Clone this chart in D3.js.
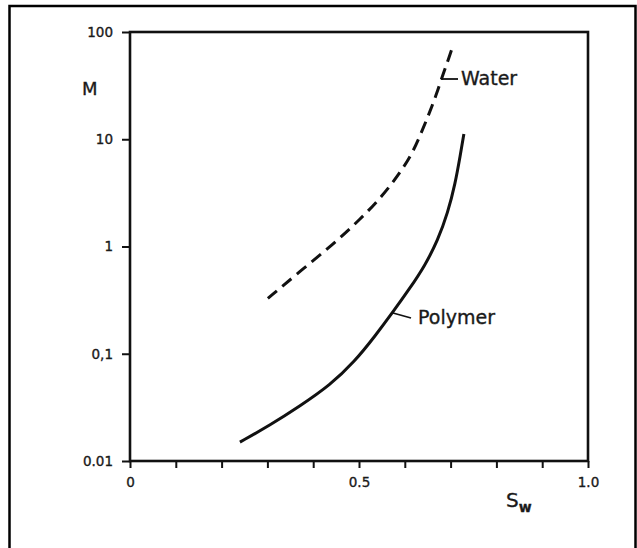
<!DOCTYPE html>
<html>
<head>
<meta charset="utf-8">
<script src="https://cdn.jsdelivr.net/npm/d3@7"></script>
<style>
  html, body { margin: 0; padding: 0; background: #fff; }
  svg { display: block; }
  text { font-family: "DejaVu Sans", sans-serif; fill: #1a1a1a; stroke: #1a1a1a; stroke-width: 0.35px; }
</style>
</head>
<body>
<script>
// Mobility ratio M against water saturation Sw (log M scale)
const waterSw   = [0.301, 0.371, 0.443, 0.502, 0.552, 0.5895, 0.616, 0.635, 0.653, 0.668, 0.683, 0.694, 0.705];
const waterM    = [0.328, 0.585, 1.045, 1.78, 2.98, 4.87, 7.33, 11.2, 17.3, 25.4, 39.8, 53.7, 74.1];
const polymerSw = [0.240, 0.306, 0.371, 0.437, 0.491, 0.535, 0.572, 0.611, 0.644, 0.672, 0.694, 0.710, 0.721, 0.729];
const polymerM  = [0.0150, 0.0216, 0.0325, 0.0509, 0.0850, 0.146, 0.238, 0.407, 0.665, 1.14, 2.07, 3.85, 7.03, 11.2];

const yTickValues = [0.01, 0.1, 1, 10, 100];
const yTickLabels = ["0.01", "0,1", "1", "10", "100"];
const xTickValues = [0, 0.1, 0.2, 0.3, 0.4, 0.5, 0.6, 0.7, 0.8, 0.9, 1.0];
const xTickLabels = ["0", "", "", "", "", "0.5", "", "", "", "", "1.0"];

const W = 637, H = 548;
const svg = d3.select("body").append("svg").attr("width", W).attr("height", H);

// outer frame
svg.append("rect")
  .attr("x", 9.5).attr("y", 6).attr("width", 626).attr("height", 560)
  .attr("fill", "none").attr("stroke", "#000").attr("stroke-width", 2.5);

const x = d3.scaleLinear().domain([0, 1]).range([130, 588]);
const y = d3.scaleLog().domain([0.01, 100]).range([461, 32]);

// axes
const yAxis = d3.axisLeft(y)
  .tickValues(yTickValues)
  .tickFormat((d, i) => yTickLabels[i])
  .tickSize(8).tickSizeOuter(0).tickPadding(9);
const gy = svg.append("g").attr("transform", `translate(${x(0)},0)`).call(yAxis);

const xAxis = d3.axisBottom(x)
  .tickValues(xTickValues)
  .tickFormat((d, i) => xTickLabels[i])
  .tickSize(7).tickSizeOuter(0).tickPadding(9);
const gx = svg.append("g").attr("transform", `translate(0,${y(0.01)})`).call(xAxis);

[gx, gy].forEach(g => {
  g.select(".domain").remove();
  g.selectAll(".tick line").attr("stroke", "#111").attr("stroke-width", 2);
  g.selectAll(".tick text").attr("font-size", 13.5).attr("fill", "#1a1a1a")
    .style("font-family", "'DejaVu Sans', sans-serif");
});

// plot box
svg.append("rect")
  .attr("x", x(0)).attr("y", y(100))
  .attr("width", x(1) - x(0)).attr("height", y(0.01) - y(100))
  .attr("fill", "none").attr("stroke", "#111").attr("stroke-width", 2.6);

// axis titles
svg.append("text").attr("x", 82).attr("y", 95).attr("font-size", 18).text("M");
const st = svg.append("text").attr("x", 506).attr("y", 507).attr("font-size", 20);
st.append("tspan").text("S");
st.append("tspan").attr("dy", 5).attr("font-size", 14).attr("font-weight", "bold").text("w");

// curves, smoothed through the read points
const line = d3.line()
  .x(d => x(d[0]))
  .y(d => y(d[1]))
  .curve(d3.curveBasis);

const waterPts = waterSw.map((s, i) => [s, waterM[i]]);
const polymerPts = polymerSw.map((s, i) => [s, polymerM[i]]);

svg.append("path").datum(waterPts)
  .attr("d", line).attr("fill", "none")
  .attr("stroke", "#111").attr("stroke-width", 3)
  .attr("stroke-dasharray", "12,7");

svg.append("path").datum(polymerPts)
  .attr("d", line).attr("fill", "none")
  .attr("stroke", "#111").attr("stroke-width", 3);

// curve labels with leader lines
svg.append("line").attr("x1", 441).attr("y1", 79).attr("x2", 458).attr("y2", 79)
  .attr("stroke", "#111").attr("stroke-width", 1.8);
svg.append("text").attr("x", 461).attr("y", 85).attr("font-size", 19).text("Water");

svg.append("line").attr("x1", 393).attr("y1", 313).attr("x2", 411).attr("y2", 318)
  .attr("stroke", "#111").attr("stroke-width", 1.8);
svg.append("text").attr("x", 418).attr("y", 324).attr("font-size", 19).text("Polymer");
</script>
</body>
</html>
